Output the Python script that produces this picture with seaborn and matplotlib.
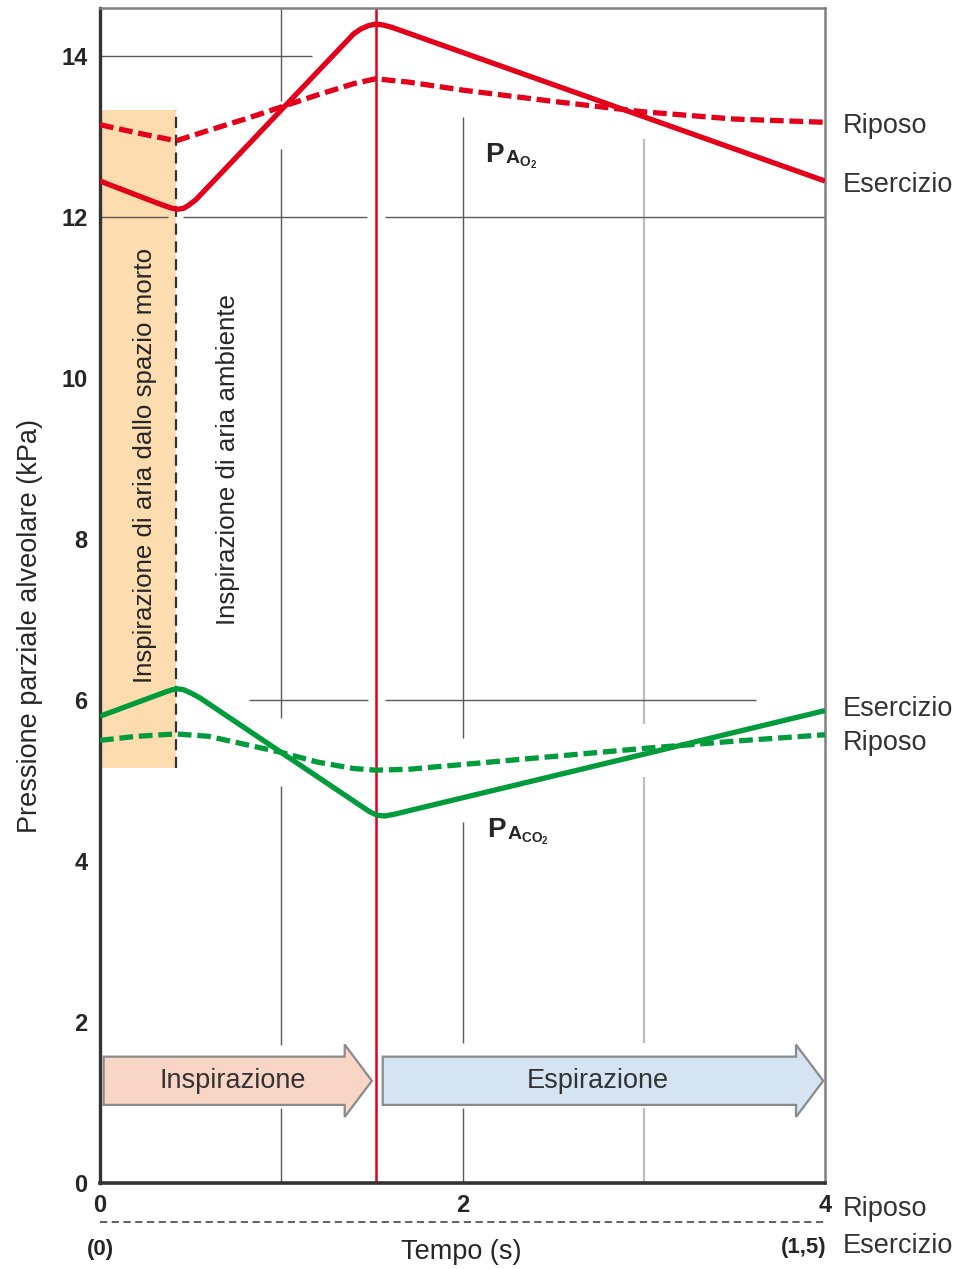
import pandas as pd
import seaborn as sns
import matplotlib.pyplot as plt
from matplotlib.patches import FancyArrow
from matplotlib.transforms import blended_transform_factory

# PAO2 (kPa) over time (s)
t_o2_ex = [0, 0.30, 0.36, 0.40, 0.43, 0.46, 0.49, 0.53, 1.40, 1.44, 1.48, 1.52, 1.56, 1.61, 4.0]
p_o2_ex = [12.45, 12.19, 12.14, 12.11, 12.10, 12.11, 12.15, 12.22, 14.28, 14.34, 14.38, 14.40, 14.39, 14.36, 12.45]
t_o2_rest = [0, 0.2, 0.42, 0.6, 0.8, 1.0, 1.2, 1.4, 1.52, 1.7, 2.0, 2.5, 3.0, 3.5, 4.0]
p_o2_rest = [13.15, 13.05, 12.95, 13.08, 13.22, 13.37, 13.52, 13.66, 13.72, 13.68, 13.58, 13.44, 13.31, 13.22, 13.18]

# PACO2 (kPa) over time (s)
t_co2_ex = [0, 0.30, 0.36, 0.40, 0.43, 0.46, 0.50, 0.55, 1.45, 1.49, 1.53, 1.57, 1.62, 4.0]
p_co2_ex = [5.80, 6.05, 6.10, 6.13, 6.14, 6.13, 6.09, 6.03, 4.67, 4.61, 4.57, 4.56, 4.58, 5.87]
t_co2_rest = [0, 0.2, 0.42, 0.6, 0.8, 1.0, 1.2, 1.4, 1.52, 1.7, 2.0, 2.5, 3.0, 3.5, 4.0]
p_co2_rest = [5.50, 5.55, 5.58, 5.55, 5.45, 5.35, 5.23, 5.15, 5.13, 5.14, 5.20, 5.30, 5.40, 5.49, 5.57]

yticks = [0, 2, 4, 6, 8, 10, 12, 14]
xticks = [0, 2, 4]

end_inspiration = 1.52
dead_space_end = 0.42
dead_space_low, dead_space_high = 5.16, 13.33

phase_names = ["Inspirazione", "Espirazione"]
phase_start = [0.02, 1.56]
phase_end = [1.50, 3.99]
phase_colors = ["#f8d5c4", "#d4e4f3"]

red = "#e3001b"
green = "#009b3a"
txt = "#262626"

frames = []
for gas, state, t, p in [("O2", "Esercizio", t_o2_ex, p_o2_ex),
                         ("O2", "Riposo", t_o2_rest, p_o2_rest),
                         ("CO2", "Esercizio", t_co2_ex, p_co2_ex),
                         ("CO2", "Riposo", t_co2_rest, p_co2_rest)]:
    frames.append(pd.DataFrame({"t": t, "p": p, "gas": gas, "stato": state}))
df = pd.concat(frames, ignore_index=True)

sns.set_theme(style="white")
plt.rcParams["font.family"] = ["Liberation Sans", "DejaVu Sans"]
plt.rcParams["mathtext.fontset"] = "custom"
plt.rcParams["mathtext.rm"] = "Liberation Sans"
plt.rcParams["mathtext.bf"] = "Liberation Sans:bold"

fig = plt.figure(figsize=(9.6, 12.69), dpi=100)
ax = fig.add_axes([100 / 960, 86 / 1269, 725 / 960, 1175 / 1269])

# dead space band
ax.fill_between([0, dead_space_end], dead_space_low, dead_space_high,
                color="#fddcb0", lw=0, zorder=0)
ax.vlines(dead_space_end, dead_space_low, dead_space_high, colors="#333333",
          linestyles=(0, (5, 3)), lw=1.6, zorder=3)

# broken grid lines
dark = "#5a5a5a"
vgrid = [(1, dark, 1.0, [(13.45, 14.6), (5.78, 12.85), (1.72, 4.93), (0, 0.93)]),
         (2, dark, 1.0, [(5.53, 13.25), (1.74, 4.48), (0, 0.93)]),
         (3, "#bdbdbd", 1.6, [(5.70, 12.97), (1.74, 5.04), (0, 0.93)])]
for x, c, w, segs in vgrid:
    for lo, hi in segs:
        ax.vlines(x, lo, hi, colors=c, lw=w, zorder=1)
hgrid = [(14, [(0, 1.17)]),
         (12, [(0, 0.375), (0.46, 1.475), (1.57, 4)]),
         (6, [(0.82, 1.48), (1.575, 3.62)])]
for y, segs in hgrid:
    for lo, hi in segs:
        ax.hlines(y, lo, hi, colors=dark, lw=1.0, zorder=1)

ax.axvline(end_inspiration, color=red, lw=1.8, zorder=2)

sns.lineplot(data=df, x="t", y="p", hue="gas", style="stato",
             palette={"O2": red, "CO2": green},
             dashes={"Esercizio": "", "Riposo": (2.6, 1.1)},
             estimator=None, sort=False, lw=3.8, legend=False, ax=ax,
             zorder=4, solid_joinstyle="round", solid_capstyle="butt")

# phase arrows
for name, s, e, c in zip(phase_names, phase_start, phase_end, phase_colors):
    ax.add_patch(FancyArrow(s, 1.27, e - s, 0, width=0.6, head_width=0.9,
                            head_length=0.15, length_includes_head=True,
                            facecolor=c, edgecolor="#8a8a8a", lw=1.6, zorder=3))
    ax.text((s + e) / 2 - 0.03, 1.27, name, ha="center", va="center",
            fontsize=19.5, color="#333333", zorder=5)

ax.set_xlim(0, 4)
ax.set_ylim(0, 14.6)
ax.set_yticks(yticks)
ax.set_yticklabels([str(v) for v in yticks], fontweight="bold", color=txt)
ax.set_xticks(xticks)
ax.set_xticklabels([str(v) for v in xticks], fontweight="bold", color=txt)
ax.tick_params(axis="y", direction="in", length=17, width=1.0, color=dark,
               labelsize=17, pad=9)
ax.tick_params(axis="x", length=0, labelsize=17, pad=8)
ax.set_xlabel("")
ax.set_ylabel("Pressione parziale alveolare (kPa)", fontsize=19.5, color=txt)
ax.yaxis.set_label_coords(-0.079, 0.474)

for side, c, w in [("left", "#333333", 2.4), ("bottom", "#333333", 2.6),
                   ("top", "#808080", 1.8), ("right", "#808080", 1.8)]:
    ax.spines[side].set_visible(True)
    ax.spines[side].set_color(c)
    ax.spines[side].set_linewidth(w)

# annotations inside the plot
ax.text(0.248, 8.92, "Inspirazione di aria dallo spazio morto", rotation=90,
        ha="center", va="center", fontsize=18.6, color=txt, zorder=5)
ax.text(0.706, 8.99, "Inspirazione di aria ambiente", rotation=90,
        ha="center", va="center", fontsize=18.6, color=txt, zorder=5)

for x, y, sub in [(2.124, 12.69, r"$\mathbf{A}_{\mathbf{O}_{\mathbf{2}}}$"),
                  (2.135, 4.30, r"$\mathbf{A}_{\mathbf{CO}_{\mathbf{2}}}$")]:
    ax.text(x, y, "P", ha="left", va="baseline", fontsize=20,
            fontweight="bold", color=txt, zorder=5)
    ax.annotate(sub, xy=(x, y), xytext=(14.5, -1.5), textcoords="offset points",
                ha="left", va="baseline", fontsize=14, color=txt, zorder=5)

for y, lab in [(13.13, "Riposo"), (12.40, "Esercizio"),
               (5.89, "Esercizio"), (5.47, "Riposo")]:
    ax.text(4.1, y, lab, ha="left", va="center", fontsize=19.5,
            color="#333333", clip_on=False)

# time axis for the two conditions
tr = blended_transform_factory(ax.transAxes, ax.transAxes)
ax.plot([0, 1], [-0.0332, -0.0332], transform=tr, clip_on=False,
        color="#555555", lw=1.3, ls=(0, (4, 2.5)))
fig.text(843 / 960, 1 - 1209 / 1269, "Riposo", ha="left", va="center",
         fontsize=19.5, color="#333333")
fig.text(843 / 960, 1 - 1246 / 1269, "Esercizio", ha="left", va="center",
         fontsize=19.5, color="#333333")
fig.text(100 / 960, 1 - 1250 / 1269, "(0)", ha="center", va="center",
         fontsize=16, fontweight="bold", color=txt)
fig.text(827 / 960, 1 - 1248 / 1269, "(1,5)", ha="right", va="center",
         fontsize=16, fontweight="bold", color=txt)
fig.text(461 / 960, 1 - 1252 / 1269, "Tempo (s)", ha="center", va="center",
         fontsize=19.5, color=txt)

fig.savefig("out.png", dpi=100, facecolor="white")
